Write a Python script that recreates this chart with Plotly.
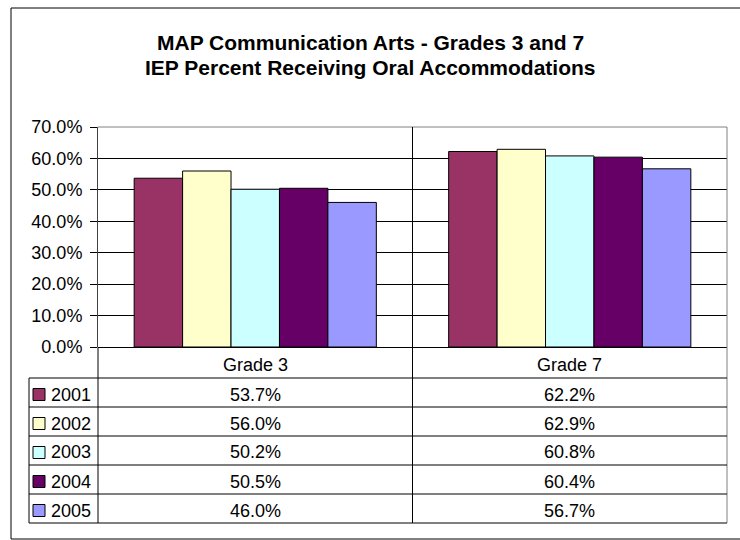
import plotly.graph_objects as go

categories = ["Grade 3", "Grade 7"]
years = ["2001", "2002", "2003", "2004", "2005"]
grade3 = [53.7, 56.0, 50.2, 50.5, 46.0]
grade7 = [62.2, 62.9, 60.8, 60.4, 56.7]
colors = ["#993366", "#FFFFCC", "#CCFFFF", "#660066", "#9999FF"]
y_ticks = [0, 10, 20, 30, 40, 50, 60, 70]
title_lines = ["MAP Communication Arts - Grades 3 and 7",
               "IEP Percent Receiving Oral Accommodations"]

W, H = 740, 540
FONT = "Liberation Sans, Arial, sans-serif"


def px(x):
    return x / W


def py(y):
    return 1 - y / H


# pixel layout of the excel-style chart
plot_l, plot_r, plot_t, plot_b = 98, 727, 127, 347
table_l = 29
row_edges = [347, 378, 407, 436, 465, 494, 523]

fig = go.Figure()
for i, yr in enumerate(years):
    fig.add_trace(go.Bar(x=categories,
                         y=[grade3[i], grade7[i]],
                         name=yr,
                         marker=dict(color=colors[i],
                                     line=dict(color="black", width=1))))

shapes = []
annotations = []

# outer chart frame (right edge falls outside the picture)
for x0, y0, x1, y1 in [(11, 8, 740, 8), (11, 8, 11, 539), (11, 539, 740, 539)]:
    shapes.append(dict(type="line", xref="paper", yref="paper",
                       x0=px(x0), y0=py(y0), x1=px(x1), y1=py(y1),
                       line=dict(color="black", width=1)))

# plot area top / right border
shapes.append(dict(type="line", xref="paper", yref="paper",
                   x0=px(plot_l), y0=py(plot_t), x1=px(plot_r), y1=py(plot_t),
                   line=dict(color="#808080", width=1)))
shapes.append(dict(type="line", xref="paper", yref="paper",
                   x0=px(plot_r), y0=py(plot_t), x1=px(plot_r), y1=py(row_edges[-1]),
                   line=dict(color="#808080", width=1)))

# divider between categories, running down through the table
shapes.append(dict(type="line", xref="x", yref="paper",
                   x0=0.5, x1=0.5, y0=py(row_edges[-1]), y1=py(plot_t),
                   line=dict(color="black", width=1)))

# table grid
for y in row_edges[1:]:
    shapes.append(dict(type="line", xref="paper", yref="paper",
                       x0=px(table_l), x1=px(plot_r), y0=py(y), y1=py(y),
                       line=dict(color="black", width=1)))
shapes.append(dict(type="line", xref="paper", yref="paper",
                   x0=px(table_l), x1=px(table_l), y0=py(row_edges[1]), y1=py(row_edges[-1]),
                   line=dict(color="black", width=1)))
shapes.append(dict(type="line", xref="paper", yref="paper",
                   x0=px(plot_l), x1=px(plot_l), y0=py(plot_b), y1=py(row_edges[-1]),
                   line=dict(color="black", width=1)))

txt = dict(size=18, color="black", family=FONT)

# title, two lines
for k, line in enumerate(title_lines):
    annotations.append(dict(x=px(370), xref="paper", xanchor="center",
                            y=py(43 + 24 * k), yref="paper", yanchor="middle",
                            text=f"<b>{line}</b>", showarrow=False,
                            font=dict(size=21, color="black", family=FONT)))

# header row
for c in categories:
    annotations.append(dict(x=c, xref="x", yref="paper", yanchor="middle",
                            y=py((row_edges[0] + row_edges[1]) / 2 + 2),
                            text=c, showarrow=False, font=txt))

# data rows with legend keys
for i, yr in enumerate(years):
    yc = (row_edges[i + 1] + row_edges[i + 2]) / 2 + 2
    shapes.append(dict(type="rect", xref="paper", yref="paper",
                       x0=px(33), x1=px(45), y0=py(yc - 6), y1=py(yc + 6),
                       fillcolor=colors[i], line=dict(color="black", width=1)))
    annotations.append(dict(x=px(49), xref="paper", xanchor="left",
                            y=py(yc), yref="paper", yanchor="middle",
                            text=yr, showarrow=False, font=txt))
    for c, vals in zip(categories, [grade3, grade7]):
        annotations.append(dict(x=c, xref="x", yref="paper", y=py(yc),
                                yanchor="middle", xanchor="center",
                                text=f"{vals[i]:.1f}%", showarrow=False,
                                font=txt))

fig.update_layout(width=W, height=H,
                  margin=dict(l=0, r=0, t=0, b=0),
                  paper_bgcolor="white",
                  plot_bgcolor="white",
                  showlegend=False,
                  barmode="group",
                  bargap=0.23,
                  bargroupgap=0,
                  font=dict(family=FONT, size=18, color="black"),
                  xaxis=dict(domain=[px(plot_l), px(plot_r)],
                             showticklabels=False, showgrid=False,
                             showline=False, zeroline=False),
                  yaxis=dict(domain=[py(plot_b), py(plot_t)],
                             range=[0, 70],
                             tickvals=y_ticks,
                             ticktext=[f"{v:.1f}%" for v in y_ticks],
                             ticks="outside", ticklen=7, tickcolor="black",
                             ticklabelstandoff=4,
                             showgrid=True, gridcolor="black", gridwidth=1,
                             showline=True, linecolor="#404040", linewidth=1,
                             zeroline=True, zerolinecolor="black",
                             zerolinewidth=1, automargin=False,
                             tickfont=dict(size=18, family=FONT)),
                  shapes=shapes,
                  annotations=annotations)

# page body has a default 8px margin; drop it so the figure fills the window
fig.write_html("out.html", config={"displayModeBar": False},
               post_script="document.body.style.margin = '0';")
